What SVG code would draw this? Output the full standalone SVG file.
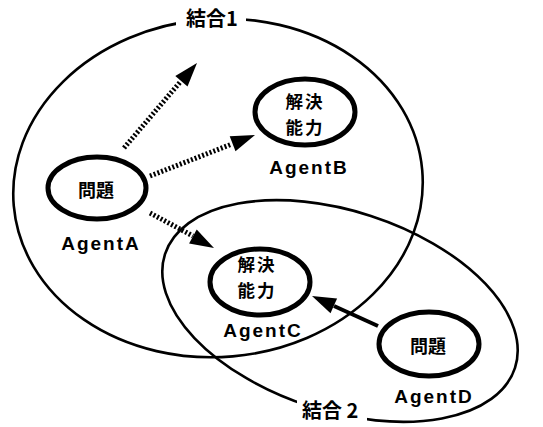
<svg xmlns="http://www.w3.org/2000/svg" width="543" height="427" viewBox="0 0 543 427">
<defs>
<style>
.grp{fill:none;stroke:#000;stroke-width:2.6}
.node{fill:#fff;stroke:#000;stroke-width:5}
.cjk{font-family:"Noto Sans CJK JP","Noto Sans CJK SC",sans-serif;font-weight:bold;fill:#000;text-anchor:middle}
.lbl{font-family:"Liberation Sans",Arial,sans-serif;font-weight:bold;font-size:19px;letter-spacing:2px;fill:#000;text-anchor:middle}
.dot{stroke:#000;stroke-width:5;stroke-dasharray:2 2;fill:none}
.solid{stroke:#000;stroke-width:4;fill:none}
.head{fill:#000}
.mask{fill:#fff}
</style>
</defs>
<rect width="543" height="427" fill="#fff"/>
<g id="group1">
<ellipse class="grp" cx="218" cy="188" rx="205" ry="169" transform="rotate(-5 218 188)"/>
</g>
<g id="group2">
<ellipse class="grp" cx="340" cy="311" rx="184" ry="100" transform="rotate(18 340 311)"/>
</g>
<g id="connectors">
<line class="dot" x1="124" y1="148" x2="181" y2="81"/>
<polygon class="head" points="197,63 187.5,86.4 175.3,76"/>
<line class="dot" x1="150" y1="176" x2="232" y2="144"/>
<polygon class="head" points="255,135 235.5,151.2 229.7,136.2"/>
<line class="dot" x1="150" y1="213" x2="193" y2="236"/>
<polygon class="head" points="214,248 189.1,243.5 196.7,229.5"/>
<line class="solid" x1="378" y1="326" x2="334" y2="306"/>
<polygon class="head" points="312,296 337.1,298.6 330.5,313.2"/>
</g>
<g id="group-labels">
<rect class="mask" x="176" y="6" width="70" height="26"/>
<text class="cjk" x="186" y="26" font-size="20" style="text-anchor:start">結合1</text>
<rect class="mask" x="297" y="398" width="70" height="27"/>
<text class="cjk" x="302" y="418" font-size="20" style="text-anchor:start">結合 2</text>
</g>
<g id="agentA">
<ellipse class="node" cx="97" cy="188" rx="49" ry="31"/>
<text class="cjk" x="96" y="197" font-size="18">問題</text>
<text class="lbl" x="101" y="250">AgentA</text>
</g>
<g id="agentB">
<ellipse class="node" cx="305" cy="112" rx="50" ry="33"/>
<text class="cjk" x="305" y="108" font-size="17.5" letter-spacing="2">解決</text>
<text class="cjk" x="305" y="134" font-size="17.5" letter-spacing="2">能力</text>
<text class="lbl" x="309" y="174">AgentB</text>
</g>
<g id="agentC">
<ellipse class="node" cx="260" cy="282" rx="50" ry="33"/>
<text class="cjk" x="257" y="271" font-size="17.5" letter-spacing="2">解決</text>
<text class="cjk" x="257" y="297" font-size="17.5" letter-spacing="2">能力</text>
<text class="lbl" x="263" y="337">AgentC</text>
</g>
<g id="agentD">
<ellipse class="node" cx="429" cy="344" rx="50" ry="32"/>
<text class="cjk" x="428" y="353" font-size="18">問題</text>
<text class="lbl" x="434" y="403">AgentD</text>
</g>
</svg>
